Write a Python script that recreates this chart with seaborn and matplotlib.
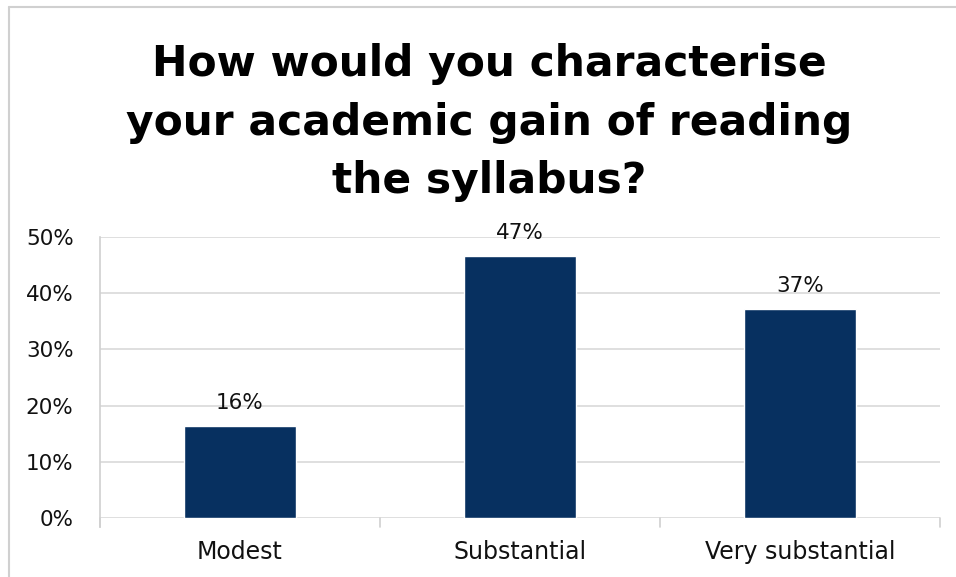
import matplotlib
matplotlib.use("Agg")
import matplotlib.pyplot as plt
import seaborn as sns
import pandas as pd
from matplotlib.lines import Line2D
from matplotlib.ticker import FuncFormatter

# Survey answers (percent of respondents)
categories = ["Modest", "Substantial", "Very substantial"]
shares = [16.3, 46.6, 37.2]
yticks = [0, 10, 20, 30, 40, 50]

df = pd.DataFrame({"answer": categories, "share": shares})

sns.set_style("white")
plt.rcParams["font.family"] = ["DejaVu Sans"]

fig = plt.figure(figsize=(9.56, 5.77), dpi=100)
ax = fig.add_axes([100 / 956, 1 - 518 / 577, 840 / 956, 281 / 577])

sns.barplot(data=df, x="answer", y="share", color="#073060", width=0.4,
            saturation=1, ax=ax)

ax.set_ylim(0, 50)
ax.set_xlim(-0.5, 2.5)
ax.set_yticks(yticks)
ax.yaxis.set_major_formatter(FuncFormatter(lambda v, _: f"{v:.0f}%"))
ax.grid(axis="y", color="#d9d9d9", linewidth=1.2)
ax.set_axisbelow(True)
for s in ["top", "right", "bottom"]:
    ax.spines[s].set_visible(False)
ax.spines["left"].set_color("#d0d0d0")
ax.spines["left"].set_linewidth(1.2)
ax.set_xlabel("")
ax.set_ylabel("")
ax.tick_params(axis="y", length=8, color="#d9d9d9", labelsize=15.5, pad=11,
               labelcolor="#111111")
ax.tick_params(axis="x", length=0, labelsize=17, pad=16, labelcolor="#111111")

# category separator ticks below the axis
for xb in [-0.5, 0.5, 1.5, 2.5]:
    ax.plot([xb, xb], [0, -1.6], color="#d0d0d0", lw=1.2, clip_on=False)
ax.spines["left"].set_bounds(-1.6, 50)

for i, v in enumerate(shares):
    ax.text(i, v + 2.3, f"{v:.0f}%", ha="center", va="bottom", fontsize=15.5,
            color="#111111")

fig.text(0.512, 0.925, "How would you characterise\nyour academic gain of reading\nthe syllabus?",
         ha="center", va="top", fontsize=30.5, fontweight="bold",
         linespacing=1.5, color="black")

# outer chart frame (left and top edges visible)
fig.add_artist(Line2D([9 / 956, 9 / 956], [0, 1 - 7 / 577], color="#d0d0d0", lw=1.5))
fig.add_artist(Line2D([9 / 956, 1], [1 - 7 / 577, 1 - 7 / 577], color="#d0d0d0", lw=1.5))

fig.savefig("out.png", dpi=100)
